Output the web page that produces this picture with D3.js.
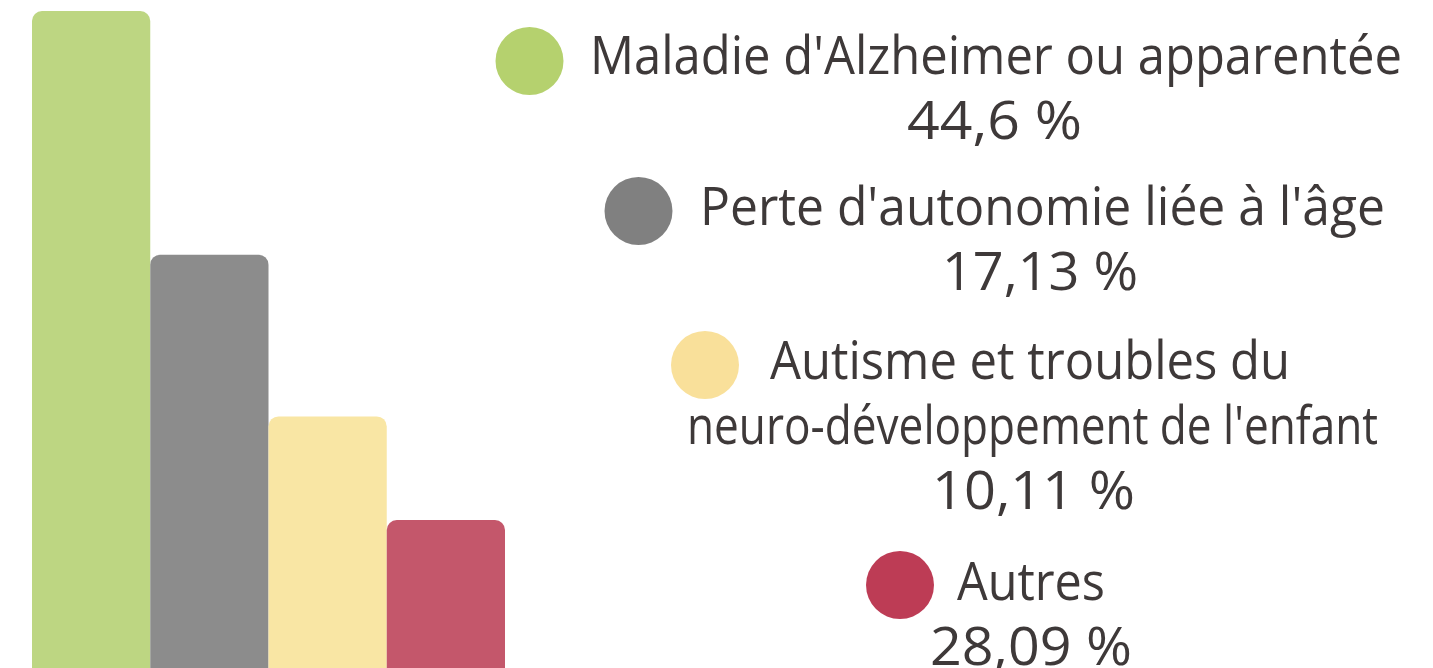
<!DOCTYPE html>
<html>
<head>
<meta charset="utf-8">
<script src="https://cdn.jsdelivr.net/npm/d3@7"></script>
<style>
  html, body { margin: 0; padding: 0; background: #ffffff; }
  svg { display: block; }
</style>
</head>
<body>
<svg id="chart" width="1433" height="668"></svg>
<script>
// ---- data ----
const barCategories = ["b1", "b2", "b3", "b4"];
const barValues = [44.6, 28.09, 17.13, 10.11];
const barColors = ["#bdd682", "#8c8c8c", "#f9e6a4", "#c4576b"];

const legendLabels = [
  ["Maladie d'Alzheimer ou apparentée"],
  ["Perte d'autonomie liée à l'âge"],
  ["Autisme et troubles du", "neuro-développement de l'enfant"],
  ["Autres"]
];
const legendValues = [44.6, 17.13, 10.11, 28.09];
const legendColors = ["#b5d16e", "#808080", "#f9e09a", "#bd3c55"];

// ---- layout (positions/styles) ----
const W = 1433, H = 668;
const textColor = "#3e3939";
const fontSize = 53;
const lineGap = 65;
// per-item legend layout: circle centre, first baseline, and per-line [centreX, width]
const legendLayout = [
  { cx: 529.5, cy: 61,  base: 74,  lines: [[996, 812]],                 value: [994.5, 175] },
  { cx: 638.5, cy: 211, base: 225, lines: [[1042.5, 685]],              value: [1040, 196] },
  { cx: 705,   cy: 365, base: 379, lines: [[1030, 520], [1032.5, 691]], value: [1033.5, 203] },
  { cx: 900,   cy: 585, base: 600, lines: [[1031, 148]],                value: [1031, 202] }
];

const svg = d3.select("#chart");

// ---- bars ----
const x = d3.scaleBand().domain(barCategories).range([32, 505]).padding(0);
const y = d3.scaleLinear().domain([0, 44.6]).range([669.2, 11]);
const r = 10;

function topRoundedRect(x0, y0, w, h, rr) {
  const p = d3.path();
  p.moveTo(x0, y0 + h);
  p.lineTo(x0, y0 + rr);
  p.arcTo(x0, y0, x0 + rr, y0, rr);
  p.lineTo(x0 + w - rr, y0);
  p.arcTo(x0 + w, y0, x0 + w, y0 + rr, rr);
  p.lineTo(x0 + w, y0 + h);
  p.closePath();
  return p.toString();
}

svg.append("g").selectAll("path")
  .data(barValues)
  .join("path")
  .attr("d", (d, i) => topRoundedRect(x(barCategories[i]), y(d), x.bandwidth(), y(0) - y(d), r))
  .attr("fill", (d, i) => barColors[i]);

// ---- legend ----
const fr = d3.formatLocale({ decimal: ",", thousands: " ", grouping: [3], currency: ["", " €"] });
const fmt = v => fr.format(".2~f")(v) + " %";

const lg = svg.append("g")
  .attr("font-family", "'Open Sans', 'Noto Sans', sans-serif")
  .attr("font-size", fontSize)
  .attr("fill", textColor);

legendLabels.forEach((lines, i) => {
  const L = legendLayout[i];
  lg.append("circle")
    .attr("cx", L.cx).attr("cy", L.cy).attr("r", 34)
    .attr("fill", legendColors[i]);
  lines.forEach((t, j) => {
    lg.append("text")
      .attr("x", L.lines[j][0])
      .attr("y", L.base + j * lineGap)
      .attr("text-anchor", "middle")
      .attr("textLength", L.lines[j][1])
      .attr("lengthAdjust", "spacingAndGlyphs")
      .text(t);
  });
  lg.append("text")
    .attr("x", L.value[0])
    .attr("y", L.base + lines.length * lineGap)
    .attr("text-anchor", "middle")
    .attr("textLength", L.value[1])
    .attr("lengthAdjust", "spacingAndGlyphs")
    .text(fmt(legendValues[i]));
});
</script>
</body>
</html>
